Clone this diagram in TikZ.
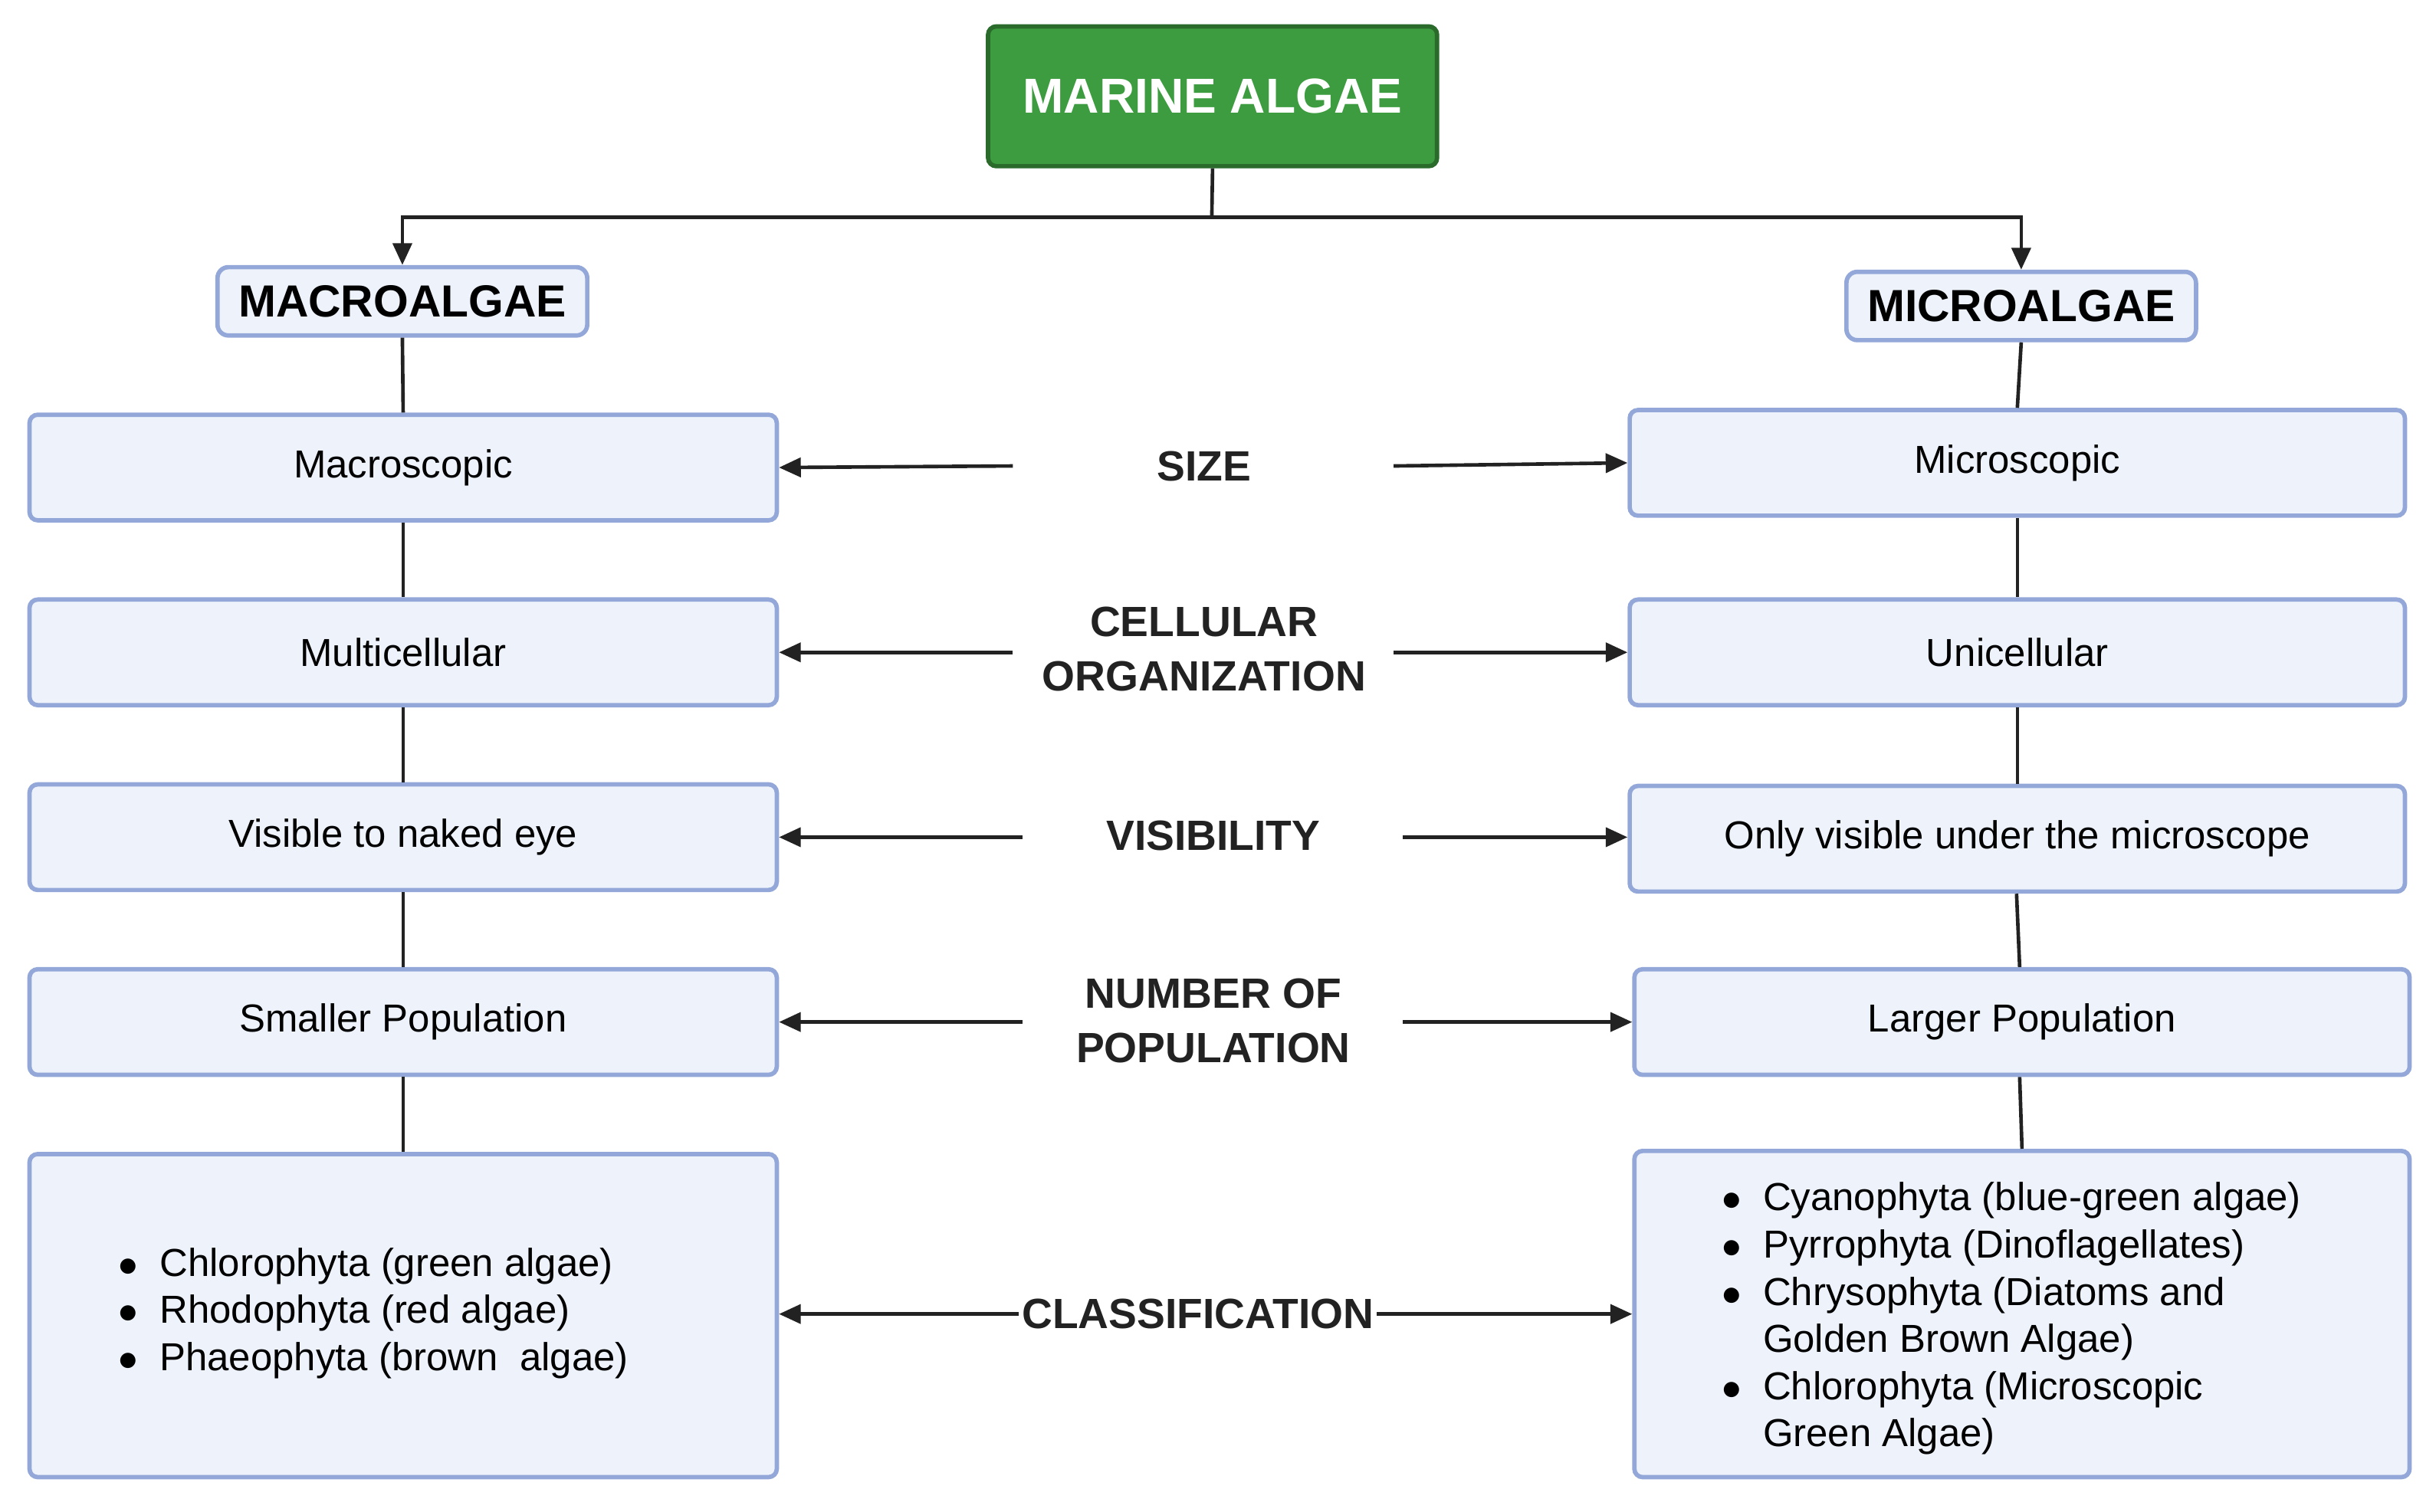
\documentclass[tikz,border=0pt]{standalone}
\usepackage{fontspec}
\setmainfont{Liberation Sans}
\usetikzlibrary{arrows.meta}
\definecolor{bfill}{HTML}{EDF2FB}
\definecolor{bdraw}{HTML}{93A8D8}
\definecolor{gfill}{HTML}{3C9C3F}
\definecolor{gdraw}{HTML}{2A6B2C}
\definecolor{ln}{HTML}{222222}
\begin{document}
\begin{tikzpicture}[x=0.02cm,y=-0.02cm,
 box/.style={draw=bdraw,fill=bfill,line width=1.6pt,rounded corners=3pt,inner sep=0pt},
 ttl/.style={draw=bdraw,fill=bfill,line width=1.6pt,rounded corners=4pt,font=\fontsize{16.5}{20}\selectfont\bfseries},
 txt/.style={font=\fontsize{14.3}{17.3}\selectfont},
 lab/.style={font=\fontsize{15.5}{20}\selectfont\bfseries,align=center,text=ln},
 con/.style={line width=1.3pt,draw=ln},
 arr/.style={con,-{Triangle[length=8pt,width=7pt]}}]
\useasboundingbox (0,0) rectangle (1568,973);
% root
\node[draw=gdraw,fill=gfill,line width=1.6pt,rounded corners=3pt,minimum width=289*0.02cm,minimum height=90*0.02cm,text=white,font=\fontsize{18}{22}\selectfont\bfseries] (root) at (780.5,62) {MARINE ALGAE};
\node[ttl,minimum width=238*0.02cm,minimum height=44*0.02cm] (macro) at (259,194) {MACROALGAE};
\node[ttl,minimum width=225*0.02cm,minimum height=44*0.02cm] (micro) at (1301,197) {MICROALGAE};
\coordinate (jl) at (259,140); \coordinate (jr) at (1301,140); \coordinate (jm) at (780,140);
\draw[con] (root.south) -- (jm);
\draw[arr] (jm) -- (jl) -- (macro.north);
\draw[arr] (jm) -- (jr) -- (micro.north);
% left boxes
\foreach \n/\y/\t in {l1/301/Macroscopic,l2/420/Multicellular,l3/539/Visible to naked eye,l4/658/Smaller Population}
 \node[box,minimum width=481*0.02cm,minimum height=68*0.02cm,txt] (\n) at (259.5,\y) {\t};
\node[box,minimum width=481*0.02cm,minimum height=208*0.02cm] (l5) at (259.5,847) {};
\node[txt,anchor=west,align=left] at (70,846) {\begin{tabular}{@{}l@{\ \ }l@{}}$\bullet$&Chlorophyta (green algae)\\$\bullet$&Rhodophyta (red algae)\\$\bullet$&Phaeophyta (brown\ \ algae)\end{tabular}};
% right boxes
\foreach \n/\y/\t in {r1/298/Microscopic,r2/420/Unicellular,r3/540/Only visible under the microscope}
 \node[box,minimum width=499*0.02cm,minimum height=68*0.02cm,txt] (\n) at (1298.5,\y) {\t};
\node[box,minimum width=499*0.02cm,minimum height=68*0.02cm,txt] (r4) at (1301.5,658) {Larger Population};
\node[box,minimum width=499*0.02cm,minimum height=210*0.02cm] (r5) at (1301.5,846) {};
\node[txt,anchor=north west,align=left] at (1102,752) {\begin{tabular}{@{}l@{\ \ }l@{}}$\bullet$&Cyanophyta (blue-green algae)\\$\bullet$&Pyrrophyta (Dinoflagellates)\\$\bullet$&Chrysophyta (Diatoms and\\&Golden Brown Algae)\\$\bullet$&Chlorophyta (Microscopic\\&Green Algae)\end{tabular}};
% vertical connectors
\draw[con] (macro.south) -- (l1.north); \draw[con] (l1.south) -- (l2.north);
\draw[con] (l2.south) -- (l3.north); \draw[con] (l3.south) -- (l4.north); \draw[con] (l4.south) -- (l5.north);
\draw[con] (micro.south) -- (r1.north); \draw[con] (r1.south) -- (r2.north);
\draw[con] (r2.south) -- (r3.north); \draw[con] (r3.south -| 1298,0) -- (r4.north -| 1300,0); \draw[con] (r4.south -| 1300,0) -- (r5.north);
% labels
\node[lab] (s1) at (775,300) {SIZE};
\node[lab] (s2) at (775,418) {CELLULAR\\ORGANIZATION};
\node[lab] (s3) at (781,538) {VISIBILITY};
\node[lab] (s4) at (781,657) {NUMBER OF\\POPULATION};
\node[lab,inner sep=1pt] (s5) at (771,846) {CLASSIFICATION};
\coordinate (a1l) at (652,300); \coordinate (a1r) at (897,300);
\draw[arr] (a1l) -- (l1.east); \draw[arr] (a1r) -- (r1.west);
\coordinate (a2l) at (652,420); \coordinate (a2r) at (897,420);
\draw[arr] (a2l) -- (l2.east); \draw[arr] (a2r) -- (r2.west);
\coordinate (a3l) at (658,539); \coordinate (a3r) at (903,539);
\draw[arr] (a3l) -- (l3.east); \draw[arr] (a3r) -- (r3.west |- 0,539);
\coordinate (a4l) at (658,658); \coordinate (a4r) at (903,658);
\draw[arr] (a4l) -- (l4.east); \draw[arr] (a4r) -- (r4.west);
\draw[arr] (s5.west) -- (l5.east |- s5.west); \draw[arr] (s5.east) -- (r5.west |- s5.east);
\end{tikzpicture}
\end{document}
